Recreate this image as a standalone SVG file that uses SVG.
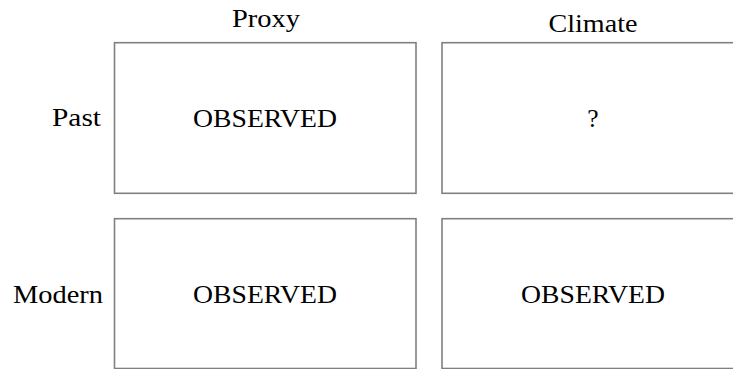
<svg xmlns="http://www.w3.org/2000/svg" width="733" height="369" viewBox="0 0 733 369">
<style>
.box{fill:#ffffff;stroke:#808080;stroke-width:1.6}
.t{font-size:25.5px;fill:#000000}
.c{text-anchor:middle}
.r{text-anchor:end}
</style>
<rect width="733" height="369" fill="#ffffff"/>
<g font-family="'Liberation Serif', 'DejaVu Serif', 'Noto Serif', serif">
<g id="col-proxy"><text class="t c" x="266" y="27" textLength="68" lengthAdjust="spacingAndGlyphs">Proxy</text></g>
<g id="col-climate"><text class="t c" x="593" y="32" textLength="89" lengthAdjust="spacingAndGlyphs">Climate</text></g>
<g id="row-past"><text class="t r" x="101" y="126" textLength="49" lengthAdjust="spacingAndGlyphs">Past</text></g>
<g id="row-modern"><text class="t r" x="103" y="303" textLength="90" lengthAdjust="spacingAndGlyphs">Modern</text></g>
<g id="past-proxy">
<rect class="box" x="114.5" y="42.7" width="301.5" height="150.6"/>
<text class="t c" x="265" y="127" textLength="144" lengthAdjust="spacingAndGlyphs">OBSERVED</text>
</g>
<g id="past-climate">
<rect class="box" x="442" y="42.7" width="302" height="150.6"/>
<text class="t c" x="593" y="127">?</text>
</g>
<g id="modern-proxy">
<rect class="box" x="114.5" y="218.7" width="301.5" height="149.8"/>
<text class="t c" x="265" y="303" textLength="144" lengthAdjust="spacingAndGlyphs">OBSERVED</text>
</g>
<g id="modern-climate">
<rect class="box" x="442" y="218.7" width="302" height="149.8"/>
<text class="t c" x="593" y="303" textLength="144" lengthAdjust="spacingAndGlyphs">OBSERVED</text>
</g>
</g>
<g id="connectors"></g>
</svg>
